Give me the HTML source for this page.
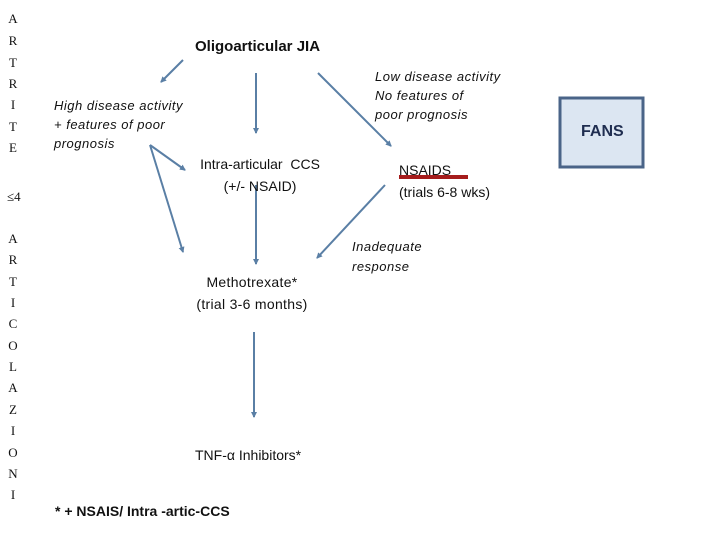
<!DOCTYPE html>
<html><head><meta charset="utf-8"><style>
body{margin:0;width:720px;height:540px;background:#fff;position:relative;overflow:hidden;font-family:"Liberation Sans",sans-serif;color:#111}
.t{position:absolute;white-space:nowrap;line-height:1}
.l{position:absolute;left:7px;width:12px;text-align:center;font-family:"Liberation Serif",serif;font-size:13px;line-height:1}
.i{font-style:italic;font-size:13px;letter-spacing:0.5px}
.c{transform:translateX(-50%);text-align:center}
</style></head><body>
<svg width="720" height="540" style="position:absolute;left:0;top:0">
<defs><marker id="a" markerWidth="6" markerHeight="6" refX="5" refY="3" orient="auto" markerUnits="userSpaceOnUse"><path d="M0,0 L6,3 L0,6z" fill="#5a7fa5"/></marker></defs>
<g stroke="#5a7fa5" stroke-width="2" fill="none" marker-end="url(#a)">
<line x1="183" y1="60" x2="161" y2="82"/>
<line x1="256" y1="73" x2="256" y2="133"/>
<line x1="318" y1="73" x2="391" y2="146"/>
<line x1="150" y1="145" x2="185" y2="170"/>
<line x1="150" y1="145" x2="183" y2="252"/>
<line x1="256" y1="185" x2="256" y2="264"/>
<line x1="385" y1="185" x2="317" y2="258"/>
<line x1="254" y1="332" x2="254" y2="417"/>
</g>
<line x1="399" y1="177" x2="468" y2="177" stroke="#a51c1c" stroke-width="4"/>
<rect x="560" y="98" width="83" height="69" fill="#dce6f2" stroke="#4a6488" stroke-width="3"/>
</svg>
<div class="l" style="top:12px">A</div><div class="l" style="top:34px">R</div><div class="l" style="top:56px">T</div><div class="l" style="top:77px">R</div><div class="l" style="top:98px">I</div><div class="l" style="top:120px">T</div><div class="l" style="top:141px">E</div>
<div class="l" style="top:190px">≤4</div>
<div class="l" style="top:232px">A</div><div class="l" style="top:253px">R</div><div class="l" style="top:275px">T</div><div class="l" style="top:296px">I</div><div class="l" style="top:317px">C</div><div class="l" style="top:339px">O</div><div class="l" style="top:360px">L</div><div class="l" style="top:381px">A</div><div class="l" style="top:403px">Z</div><div class="l" style="top:424px">I</div><div class="l" style="top:446px">O</div><div class="l" style="top:467px">N</div><div class="l" style="top:488px">I</div>
<div class="t" style="left:195px;top:39px;font-size:15px;font-weight:bold">Oligoarticular JIA</div>
<div class="t i" style="left:54px;top:96px;line-height:19px">High disease activity<br>+ features of poor<br>prognosis</div>
<div class="t c" style="left:260px;top:153px;font-size:14px;line-height:22px">Intra-articular &nbsp;CCS<br>(+/- NSAID)</div>
<div class="t c" style="left:252px;top:271px;font-size:14px;line-height:22px;letter-spacing:0.3px">Methotrexate*<br>(trial 3-6 months)</div>
<div class="t" style="left:195px;top:448px;font-size:14px">TNF-α Inhibitors*</div>
<div class="t" style="left:55px;top:504px;font-size:14px;font-weight:bold">* + NSAIS/ Intra -artic-CCS</div>
<div class="t i" style="left:375px;top:67px;line-height:19px">Low disease activity<br>No features of<br>poor prognosis</div>
<div class="t" style="left:399px;top:159px;font-size:14px;line-height:22px">NSAIDS<br>(trials 6-8 wks)</div>
<div class="t i" style="left:352px;top:237px;line-height:20px">Inadequate<br>response</div>
<div class="t" style="left:581px;top:124px;font-size:16px;font-weight:bold;color:#1f2d50">FANS</div>
</body></html>
